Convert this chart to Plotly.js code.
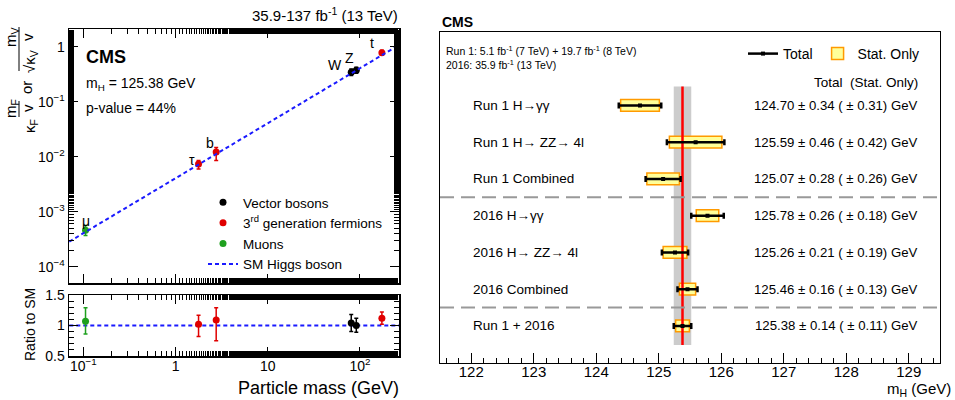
<!DOCTYPE html>
<html><head><meta charset="utf-8">
<script src="https://cdn.plot.ly/plotly-3.0.1.min.js"></script>
<style>html,body{margin:0;padding:0;background:#fff}#g{width:955px;height:400px}</style>
</head><body><div id="g"></div>
<script>
// ---------- Left panel data ----------
const vbNames = ["W", "Z"];
const vbMass = [80.38, 91.19];
const vbCoup = [0.345, 0.375];
const vbCoupUp = [0.05, 0.05];
const vbCoupDn = [0.045, 0.045];
const vbRatio = [1.04, 1.00];
const vbRatioUp = [0.14, 0.12];
const vbRatioDn = [0.14, 0.11];

const fNames = ["τ", "b", "t"];
const fMass = [1.777, 2.76, 172.76];
const fCoup = [0.0074, 0.0122, 0.78];
const fCoupUp = [0.0011, 0.0025, 0.08];
const fCoupDn = [0.0014, 0.0037, 0.07];
const fRatio = [1.02, 1.09, 1.12];
const fRatioUp = [0.15, 0.20, 0.10];
const fRatioDn = [0.20, 0.34, 0.10];

const muNames = ["μ"];
const muMass = [0.1057];
const muCoup = [0.00046];
const muCoupUp = [0.0001];
const muCoupDn = [0.00009];
const muRatio = [1.07];
const muRatioUp = [0.22];
const muRatioDn = [0.21];

const smMass = [0.0705, 265];
const smCoup = [0.000286, 1.076];
const smRatio = [1, 1];

const xTickVals = [0.1, 1, 10, 100];
const xTickText = ["10<sup>−1</sup>", "1", "10", "10<sup>2</sup>"];
const yTickVals = [0.0001, 0.001, 0.01, 0.1, 1];
const yTickText = ["10<sup>−4</sup>", "10<sup>−3</sup>", "10<sup>−2</sup>", "10<sup>−1</sup>", "1"];
const rTickVals = [0.5, 1, 1.5];
const rTickText = ["0.5", "1", "1.5"];

// ---------- Right panel data ----------
const chanLabels = ["Run 1 H→γγ", "Run 1 H→ ZZ→ 4l", "Run 1 Combined", "2016 H→γγ", "2016 H→ ZZ→ 4l", "2016 Combined", "Run 1 + 2016"];
const chanRow = [7, 6, 5, 4, 3, 2, 1];
const chanMass = [124.70, 125.59, 125.07, 125.78, 125.26, 125.46, 125.38];
const chanTot = [0.34, 0.46, 0.28, 0.26, 0.21, 0.16, 0.14];
const chanStat = [0.31, 0.42, 0.26, 0.18, 0.19, 0.13, 0.11];
const sepRows = [4.5, 1.5];

const FONT = "Liberation Sans, Arial, Helvetica, sans-serif";
const RED = "#e00000", GREEN = "#1ea01e", BLUE = "#1a1aff";

function pts(mass, coup, up, dn, color, name, show, xa, ya) {
  return {
    type: "scatter", mode: "markers", x: mass, y: coup, xaxis: xa, yaxis: ya,
    name: name, showlegend: show, legend: "legend",
    marker: {color: color, size: 7},
    error_y: {type: "data", array: up, arrayminus: dn, symmetric: false, color: color, thickness: 1.5, width: 2}
  };
}

const traces = [
  pts(vbMass, vbCoup, vbCoupUp, vbCoupDn, "black", "Vector bosons", true, "x", "y"),
  pts(fMass, fCoup, fCoupUp, fCoupDn, RED, "3<sup>rd</sup> generation fermions", true, "x", "y"),
  pts(muMass, muCoup, muCoupUp, muCoupDn, GREEN, "Muons", true, "x", "y"),
  {type: "scatter", mode: "lines", x: smMass, y: smCoup, xaxis: "x", yaxis: "y", name: "SM Higgs boson",
   legend: "legend", line: {color: BLUE, width: 2, dash: "4px,3px"}},
  {type: "scatter", mode: "lines", x: smMass, y: smRatio, xaxis: "x2", yaxis: "y2", showlegend: false,
   line: {color: BLUE, width: 2, dash: "4px,3px"}},
  pts(vbMass, vbRatio, vbRatioUp, vbRatioDn, "black", "", false, "x2", "y2"),
  pts(fMass, fRatio, fRatioUp, fRatioDn, RED, "", false, "x2", "y2"),
  pts(muMass, muRatio, muRatioUp, muRatioDn, GREEN, "", false, "x2", "y2"),
  // right panel: stat-only boxes
  {type: "bar", orientation: "h", xaxis: "x3", yaxis: "y3",
   y: chanRow, x: chanStat.map(s => 2 * s), base: chanMass.map((m, i) => m - chanStat[i]),
   width: 0.32, name: "Stat. Only", legend: "legend2", legendrank: 2,
   marker: {color: "#ffff99", line: {color: "#ff9a00", width: 1.5}}},
  // red combined line
  {type: "scatter", mode: "lines", xaxis: "x3", yaxis: "y3", showlegend: false,
   x: [chanMass[6], chanMass[6]], y: [0.48, 7.52], line: {color: "#ff0000", width: 2.5}},
  // total error bars
  {type: "scatter", mode: "markers", xaxis: "x3", yaxis: "y3", y: chanRow, x: chanMass,
   name: "Total", showlegend: false,
   marker: {color: "black", size: 4, symbol: "square"},
   error_x: {type: "data", array: chanTot, color: "black", thickness: 2.5, width: 3}},
  // legend entry for the total error bars
  {type: "scatter", mode: "lines+markers", xaxis: "x3", yaxis: "y3", x: [null], y: [null],
   name: "Total", legend: "legend2", legendrank: 1,
   line: {color: "black", width: 2.5}, marker: {color: "black", size: 4, symbol: "square"}}
];

const ann = [];
const allNames = vbNames.concat(fNames, muNames);
const allMass = vbMass.concat(fMass, muMass);
const allCoup = vbCoup.concat(fCoup, muCoup);
const shifts = {"W": [-16, 7], "Z": [-7, 12], "τ": [-7, 4], "b": [-6, 9], "t": [-10, 10], "μ": [0, 9]};
allNames.forEach((n, i) => {
  ann.push({xref: "x", yref: "y", x: Math.log10(allMass[i]), y: Math.log10(allCoup[i]), text: n,
    showarrow: false, xshift: shifts[n][0], yshift: shifts[n][1], font: {size: 14, color: "black"}});
});
function pa(x, y, text, size, opts) {
  return Object.assign({xref: "paper", yref: "paper", x: x / 955, y: 1 - y / 400, text: text,
    xanchor: "center", yanchor: "middle",
    showarrow: false, font: {size: size, color: "black", family: FONT}}, opts || {});
}
ann.push(pa(400, 14, "35.9-137 fb<sup>-1</sup> (13 TeV)", 15, {xanchor: "right"}));
ann.push(pa(84, 57, "<b>CMS</b>", 18, {xanchor: "left"}));
ann.push(pa(84, 84, "m<sub>H</sub> = 125.38 GeV", 14, {xanchor: "left"}));
ann.push(pa(84, 108, "p-value = 44%", 14, {xanchor: "left"}));
// y-axis title built as stacked fractions (rotated)
const rot = {textangle: -90};
ann.push(pa(31, 126, "κ<sub>F</sub>", 15, rot));
ann.push(pa(12, 109, "m<sub>F</sub>", 15, rot));
ann.push(pa(27, 108, "v", 15, rot));
ann.push(pa(27, 88, "or", 15, rot));
ann.push(pa(30, 62, "√κ<sub>V</sub>", 15, rot));
ann.push(pa(11, 37, "m<sub>V</sub>", 15, rot));
ann.push(pa(27, 37, "v", 15, rot));
ann.push(pa(30, 325, "Ratio to SM", 14, rot));
ann.push(pa(401, 388, "Particle mass (GeV)", 18, {xanchor: "right"}));
// right panel texts
ann.push(pa(440, 22, "<b>CMS</b>", 14, {xanchor: "left"}));
ann.push(pa(444, 50, "Run 1: 5.1 fb<sup>-1</sup> (7 TeV) + 19.7 fb<sup>-1</sup> (8 TeV)", 10.5, {xanchor: "left"}));
ann.push(pa(444, 65, "2016: 35.9 fb<sup>-1</sup> (13 TeV)", 10.5, {xanchor: "left"}));
ann.push({xref: "paper", yref: "y3", x: 920 / 955, y: 7.62, text: "Total  (Stat. Only)", showarrow: false,
  xanchor: "right", yanchor: "middle", font: {size: 13.5, family: FONT, color: "black"}});
chanLabels.forEach((l, i) => {
  ann.push({xref: "paper", yref: "y3", x: 471 / 955, y: chanRow[i], text: l, showarrow: false,
    xanchor: "left", yanchor: "middle", font: {size: 13.5, family: FONT, color: "black"}});
  ann.push({xref: "paper", yref: "y3", x: 920 / 955, y: chanRow[i],
    text: chanMass[i].toFixed(2) + " ± " + chanTot[i].toFixed(2) + " ( ± " + chanStat[i].toFixed(2) + ") GeV",
    showarrow: false, xanchor: "right", yanchor: "middle", font: {size: 13.2, family: FONT, color: "black"}});
});
ann.push(pa(953, 389, "m<sub>H</sub> (GeV)", 15, {xanchor: "right"}));

const shapes = [
  {type: "rect", xref: "x3", yref: "y3", x0: chanMass[6] - chanTot[6], x1: chanMass[6] + chanTot[6],
   y0: 0.48, y1: 7.52, fillcolor: "#cccccc", line: {width: 0}, layer: "below"},
  // fraction bars of the y-axis title
  {type: "line", xref: "paper", yref: "paper", x0: 19 / 955, x1: 19 / 955, y0: 1 - 101 / 400, y1: 1 - 117 / 400,
   line: {color: "black", width: 1}},
  {type: "line", xref: "paper", yref: "paper", x0: 19 / 955, x1: 19 / 955, y0: 1 - 27 / 400, y1: 1 - 71 / 400,
   line: {color: "black", width: 1}}
];
sepRows.forEach(r => shapes.push({type: "line", xref: "x3 domain", yref: "y3", x0: 0, x1: 1, y0: r, y1: r,
  line: {color: "#999999", width: 2, dash: "14px,7px"}}));

const axBase = {showline: true, linecolor: "black", linewidth: 1.5, mirror: "allticks", ticks: "inside",
  showgrid: false, zeroline: false, tickcolor: "black", tickfont: {size: 14, family: FONT, color: "black"}};

const layout = {
  width: 955, height: 400, margin: {l: 0, r: 0, t: 0, b: 0},
  paper_bgcolor: "white", plot_bgcolor: "white",
  font: {family: FONT, color: "black"},
  xaxis: Object.assign({}, axBase, {domain: [69 / 955, 399 / 955], anchor: "y", type: "log",
    range: [-1.155, 2.423], tickvals: xTickVals, ticktext: xTickText, showticklabels: false, ticklen: 9,
    minor: {ticks: "inside", ticklen: 5, tickcolor: "black", showgrid: false}}),
  yaxis: Object.assign({}, axBase, {domain: [1 - 283 / 400, 1 - 29 / 400], anchor: "x", type: "log",
    range: [-4.296, 0.322], tickvals: yTickVals, ticktext: yTickText, ticklen: 9,
    minor: {ticks: "inside", ticklen: 5, tickcolor: "black", showgrid: false}}),
  xaxis2: Object.assign({}, axBase, {domain: [69 / 955, 399 / 955], anchor: "y2", type: "log",
    range: [-1.155, 2.423], tickvals: xTickVals, ticktext: xTickText, ticklen: 9, ticklabelstandoff: -3,
    minor: {ticks: "inside", ticklen: 5, tickcolor: "black", showgrid: false}}),
  yaxis2: Object.assign({}, axBase, {domain: [1 - 356 / 400, 1 - 295 / 400], anchor: "x2",
    range: [0.5, 1.5], tickvals: rTickVals, ticktext: rTickText, ticklen: 9,
    minor: {ticks: "inside", ticklen: 5, dtick: 0.1, tickcolor: "black", showgrid: false}}),
  xaxis3: Object.assign({}, axBase, {domain: [440 / 955, 940 / 955], anchor: "y3", linewidth: 1.2,
    range: [121.5, 129.5], dtick: 1, tick0: 122, mirror: true, ticklen: 10, ticklabelstandoff: -5,
    tickfont: {size: 15, family: FONT, color: "black"},
    minor: {ticks: "inside", ticklen: 5, dtick: 0.2, tickcolor: "black", showgrid: false}}),
  yaxis3: {domain: [1 - 362.7 / 400, 1 - 32 / 400], anchor: "x3", range: [0, 9], showline: true, linecolor: "black",
    linewidth: 1.2, mirror: true, ticks: "", showticklabels: false, showgrid: false, zeroline: false},
  barmode: "overlay",
  legend: {x: 203 / 955, y: 1 - 187 / 400, xanchor: "left", yanchor: "top", bgcolor: "rgba(0,0,0,0)",
    font: {size: 13.5, family: FONT, color: "black"}, tracegroupgap: 0, itemwidth: 30},
  legend2: {x: 743 / 955, y: 1 - 38 / 400, xanchor: "left", yanchor: "top", orientation: "h", bgcolor: "rgba(0,0,0,0)",
    font: {size: 14, family: FONT, color: "black"}, itemwidth: 30, traceorder: "normal"},
  annotations: ann, shapes: shapes
};

Plotly.newPlot("g", traces, layout, {displayModeBar: false, staticPlot: true});
</script></body></html>
